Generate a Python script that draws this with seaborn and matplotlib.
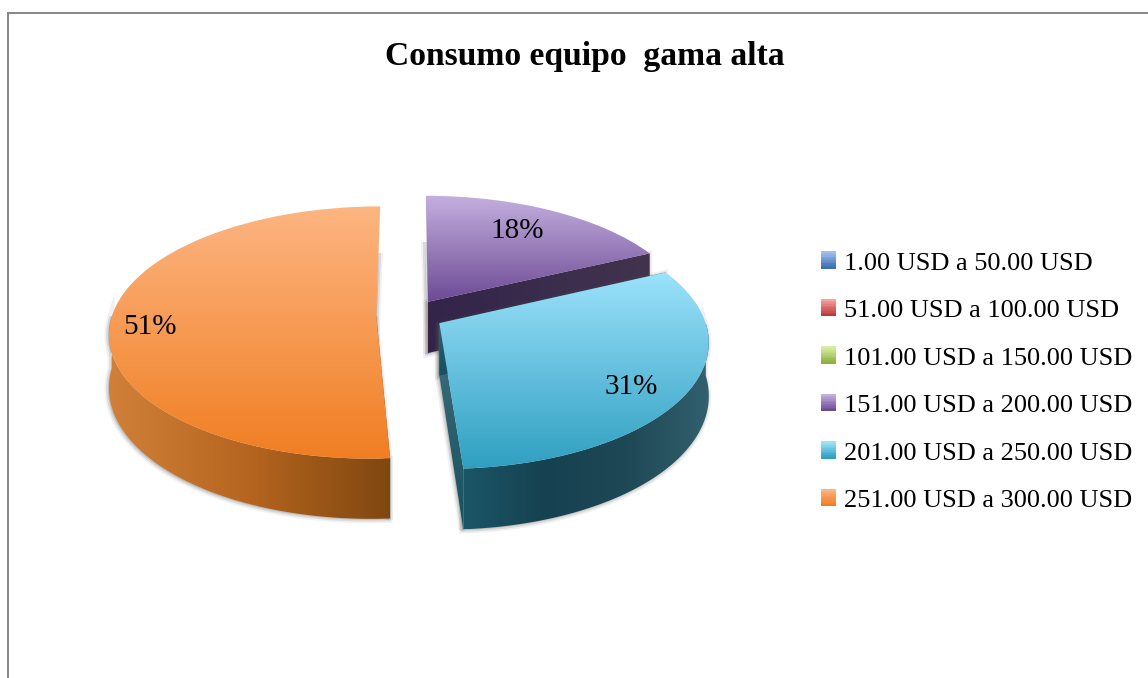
import numpy as np
import matplotlib
matplotlib.use('Agg')
import matplotlib.pyplot as plt
import seaborn as sns
from matplotlib.legend_handler import HandlerBase
from matplotlib.patches import Polygon, Rectangle
from matplotlib.transforms import Transform

categories = ['1.00 USD a 50.00 USD', '51.00 USD a 100.00 USD', '101.00 USD a 150.00 USD',
              '151.00 USD a 200.00 USD', '201.00 USD a 250.00 USD', '251.00 USD a 300.00 USD']
values = [0, 0, 0, 18, 31, 51]
light = ['#A3BEF0', '#F7A3A3', '#D7EDA7', '#C4B0DF', '#9CE2FB', '#FDB582']
dark = ['#3B6EB0', '#BC3A38', '#8FB03F', '#6D4A95', '#2F9FC1', '#F07E22']
rim_colors = {3: ['#33244A', '#3A2C4C', '#42344F'],
              4: ['#1B5667', '#164150', '#1E4856', '#33606E'],
              5: ['#D08038', '#B5651F', '#7F4710']}
cut_colors = {3: ['#33244A', '#3A2C4C', '#42344F'], 4: ['#41707D', '#17505F'], 5: ['#7F4710', '#7F4710']}

# 3D look of the pie: plain pie coordinates pushed through a perspective
cx, cy, rx, ry, tilt, depth = 410, 315, 264, 123.7, 0.135, 52


def warp(x, y, z=0):
    s = 1 / (1 + tilt * y)
    return np.column_stack([cx + rx * x * s, cy - ry * y * s + depth * z * s])


class Warp(Transform):
    input_dims = output_dims = 2

    def transform_non_affine(self, xy):
        xy = np.asarray(xy)
        return warp(xy[:, 0], xy[:, 1])


class Gradient(HandlerBase):
    def __init__(self, top, bottom):
        super().__init__()
        self.colors = sns.blend_palette([top, bottom], 10)

    def create_artists(self, legend, orig, xd, yd, w, h, fontsize, trans):
        n = len(self.colors)
        return [Rectangle((-xd, -yd + h * (1 - (i + 1) / n)), w, h / n + 0.3, fc=c, ec='none', transform=trans)
                for i, c in enumerate(self.colors)]


def shade(clip, pts, colors, z, vertical=True):
    g = np.linspace(0, 1, 256)
    g = g[:, None] if vertical else g[None, :]
    ext = (pts[:, 0].min(), pts[:, 0].max(), pts[:, 1].max(), pts[:, 1].min())
    ax.imshow(g, extent=ext, cmap=sns.blend_palette(colors, as_cmap=True), aspect='auto',
              origin='upper', clip_path=clip, zorder=z, interpolation='bilinear')


sns.set_theme(style='white')
plt.rcParams['font.family'] = ['Liberation Serif', 'DejaVu Serif']

fig = plt.figure(figsize=(11.48, 6.78), dpi=100, facecolor='white')
ax = fig.add_axes([7.5 / 1148, 0, 1 - 7.5 / 1148, 1 - 13 / 678])

wedges, _ = ax.pie(values, explode=[0.128] * 6, colors=sns.color_palette(dark), startangle=90, counterclock=False)

ax.set_aspect('auto')
ax.set_xlim(7.5, 1148)
ax.set_ylim(678, 13)
ax.set_autoscale_on(False)
ax.set_frame_on(True)
for side in ['right', 'bottom']:
    ax.spines[side].set_visible(False)
for side in ['left', 'top']:
    ax.spines[side].set_color('#868686')
    ax.spines[side].set_linewidth(1.4)

# back to front: purple, orange, blue
z = 3
for i in [3, 5, 4]:
    w = wedges[i]
    x0, y0 = w.center
    t = np.radians(np.linspace(w.theta1, w.theta2, 160))
    arc_x, arc_y = x0 + w.r * np.cos(t), y0 + w.r * np.sin(t)
    top = warp(arc_x, arc_y)
    low = warp(arc_x, arc_y, 1)
    apex, apex_low = warp(np.array([x0]), np.array([y0])), warp(np.array([x0]), np.array([y0]), 1)

    faces = []
    shadows = []
    for k in [0, -1]:
        if np.sin(t[k]) > 0.9:
            # cut running straight back: edge on, only its shadow shows
            shadows.append(np.vstack([apex, low[[k]], apex_low]))
        else:
            quad = np.vstack([apex, top[[k]], low[[k]], apex_low])
            faces.append((quad, cut_colors[i], i == 3))
            shadows.append(quad)
    front = np.sin(t) < 0
    if front.any():
        band = np.vstack([top[front], low[front][::-1]])
        faces.append((band, rim_colors[i], False))
        shadows.append(band)
    # the purple front cut runs left to right, the others are lit top to bottom

    for pts in shadows:
        for lw, a in [(5, 0.08), (2.5, 0.14)]:
            ax.add_patch(Polygon(pts + [-1, 1], fc='#555555', ec='#555555', lw=lw, alpha=a, zorder=z))
    z += 1
    for pts, c, flat in faces:
        p = Polygon(pts, fc='none', ec='none', zorder=z)
        ax.add_patch(p)
        shade(p, pts, c, z, vertical=(c is cut_colors[i]) and not flat)
        z += 1

    w.set_transform(Warp() + ax.transData)
    w.set_facecolor('none')
    w.set_edgecolor('none')
    shade(w, np.vstack([apex, top]), [light[i], dark[i]], z)
    z += 1

for v, x, y in [(18, 517, 231), (31, 631, 387), (51, 150, 327)]:
    ax.text(x, y, f'{v}%', fontsize=21, color='black', ha='center', va='center', zorder=50)

ax.text(585, 56, 'Consumo equipo  gama alta', fontsize=24.2, fontweight='bold', color='black',
        ha='center', va='center', zorder=50)

ax.legend(wedges, categories, frameon=False, loc='center left', bbox_to_anchor=(821, 382),
          bbox_transform=ax.transData, fontsize=19, labelcolor='black', borderpad=0, borderaxespad=0,
          handlelength=0.58, handleheight=0.62, handletextpad=0.29, labelspacing=0.934,
          handler_map={w: Gradient(light[i], dark[i]) for i, w in enumerate(wedges)}).set_zorder(50)

fig.savefig('out.png', dpi=100)
